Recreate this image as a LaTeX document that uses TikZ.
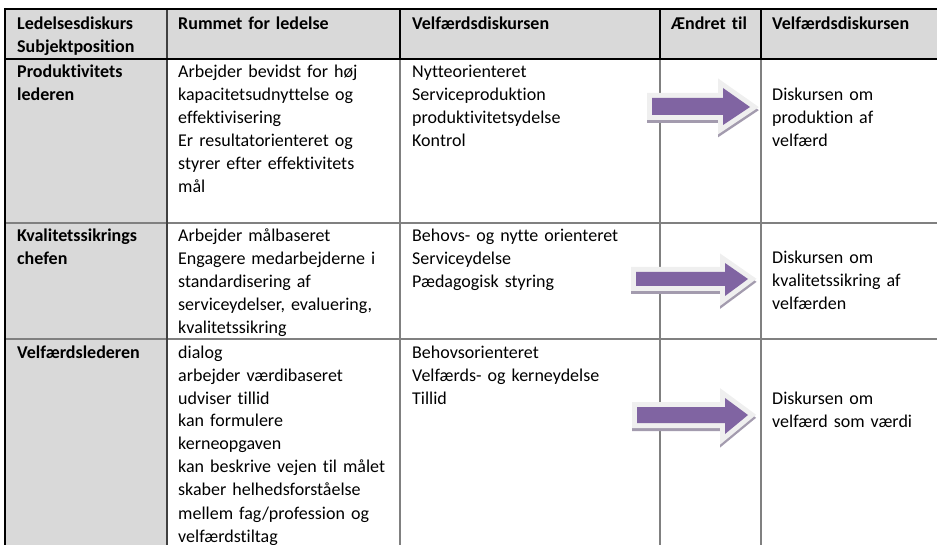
\documentclass[tikz,border=0pt]{standalone}
\usepackage{fontspec}
\setmainfont{Carlito}[RawFeature={-liga;-clig}]
\definecolor{hdrgray}{HTML}{D9D9D9}
\definecolor{rulegray}{HTML}{808080}
\definecolor{arrpurple}{HTML}{8064A2}
\definecolor{arrrim}{HTML}{EFEFEF}
\definecolor{arrshadow}{HTML}{A39BAE}
\tikzset{
  celltext/.style={anchor=base west, inner sep=0pt, align=left, text width=#1,
    font=\fontsize{18}{23}\selectfont},
  hdrtext/.style={celltext=#1, font=\bfseries\fontsize{18}{23}\selectfont},
  thickrule/.style={draw=black, line width=2pt},
  thinrule/.style={draw=rulegray, line width=1.2pt},
}
\newcommand\blockarrow[8]{%
  \path[fill=arrshadow, draw=arrshadow, line width=10pt, line join=miter, shift={(0,3)}]
    (#1,#2) -- (#4,#2) -- (#4,#5) -- (#7,#8) -- (#4,#6) -- (#4,#3) -- (#1,#3) -- cycle;
  \path[fill=arrrim, draw=arrrim, line width=10pt, line join=miter]
    (#1,#2) -- (#4,#2) -- (#4,#5) -- (#7,#8) -- (#4,#6) -- (#4,#3) -- (#1,#3) -- cycle;
  \path[fill=arrpurple]
    (#1,#2) -- (#4,#2) -- (#4,#5) -- (#7,#8) -- (#4,#6) -- (#4,#3) -- (#1,#3) -- cycle;
}
\begin{document}
\begin{tikzpicture}[x=1pt, y=-1pt]
\useasboundingbox (0,0) rectangle (937,545);
% fills
\fill[hdrgray] (5,9) rectangle (937,59);
\fill[hdrgray] (5,59) rectangle (167,545);
% body rules
\draw[thinrule] (5,223) -- (937,223);
\draw[thinrule] (5,339) -- (937,339);
\draw[thinrule, line width=1.5pt] (400,59) -- (400,545);
\draw[thinrule] (660,59) -- (660,545);
\draw[thinrule] (761,59) -- (761,545);
% arrows
\blockarrow{652}{98}{115}{723}{88}{125}{750}{107}
\blockarrow{636}{272}{286}{725}{263}{296}{748}{279}
\blockarrow{637}{407}{423}{725}{398}{434}{748}{415}
% strong rules
\draw[thickrule, draw=black!75] (167,9) -- (167,545);
\draw[thickrule] (5,8) -- (5,545);
\draw[thickrule] (4,9) -- (937,9);
\draw[thickrule] (4,59) -- (937,59);
\draw[thickrule] (400,9) -- (400,59);
\draw[thickrule] (660,9) -- (660,59);
\draw[thickrule] (761,9) -- (761,59);
% header
\node[hdrtext=150pt] (h1) at (17,30) {Ledelsesdiskurs\\Subjektposition};
\node[hdrtext=220pt] (h2) at (178,30) {Rummet for ledelse};
\node[hdrtext=240pt] (h3) at (412,30) {Velfærdsdiskursen};
\node[hdrtext=95pt] (h4) at (671,30) {Ændret til};
\node[hdrtext=170pt] (h5) at (772,30) {Velfærdsdiskursen};
% row 1
\node[hdrtext=150pt] (r1a) at (17,78) {Produktivitets\\lederen};
\node[celltext=235pt] (r1b) at (178,78) {Arbejder bevidst for høj\\kapacitetsudnyttelse og\\effektivisering\\Er resultatorienteret og\\styrer efter effektivitets\\mål};
\node[celltext=245pt] (r1c) at (412,78) {Nytteorienteret\\Serviceproduktion\\produktivitetsydelse\\Kontrol};
\node[celltext=170pt] (r1e) at (772,101) {Diskursen om\\produktion af\\velfærd};
% row 2
\node[hdrtext=150pt] (r2a) at (17,242) {Kvalitetssikrings\\chefen};
\node[celltext=235pt] (r2b) at (178,242) {Arbejder målbaseret\\Engagere medarbejderne i\\standardisering af\\serviceydelser, evaluering,\\kvalitetssikring};
\node[celltext=245pt] (r2c) at (412,242) {Behovs- og nytte orienteret\\Serviceydelse\\Pædagogisk styring};
\node[celltext=170pt] (r2e) at (772,264) {Diskursen om\\kvalitetssikring af\\velfærden};
% row 3
\node[hdrtext=150pt] (r3a) at (17,358) {Velfærdslederen};
\node[celltext=235pt] (r3b) at (178,358) {dialog\\arbejder værdibaseret\\udviser tillid\\kan formulere\\kerneopgaven\\kan beskrive vejen til målet\\skaber helhedsforståelse\\mellem fag/profession og\\velfærdstiltag};
\node[celltext=245pt] (r3c) at (412,358) {Behovsorienteret\\Velfærds- og kerneydelse\\Tillid};
\node[celltext=170pt] (r3e) at (772,404) {Diskursen om\\velfærd som værdi};
\end{tikzpicture}
\end{document}
